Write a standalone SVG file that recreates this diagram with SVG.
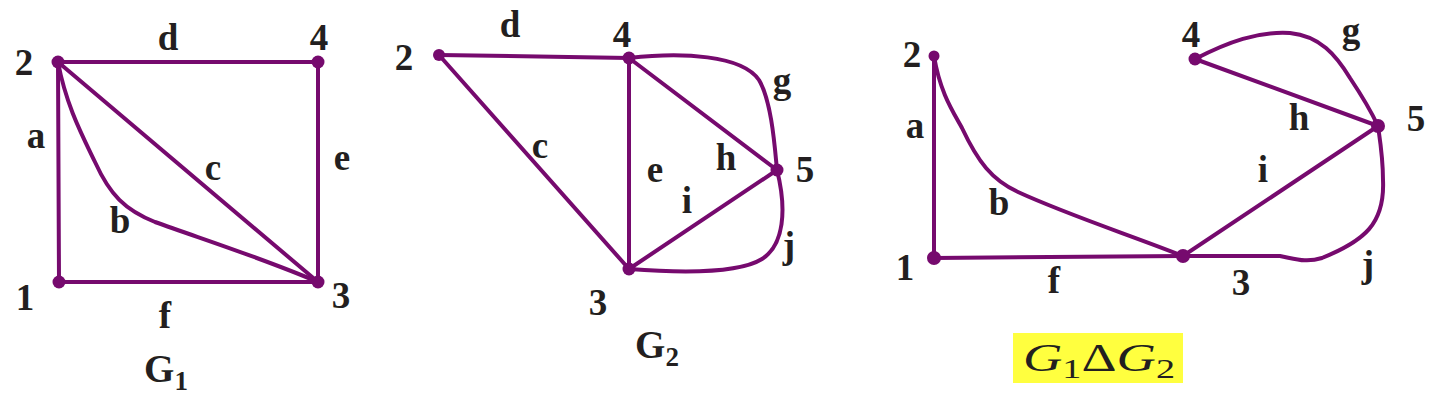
<svg xmlns="http://www.w3.org/2000/svg" width="1444" height="402" viewBox="0 0 1444 402">
<style>
.e{fill:none;stroke:#760a6e;stroke-width:4;stroke-linecap:round;stroke-linejoin:round}
.n{fill:#760a6e}
.t{font-family:"Liberation Serif","Times New Roman",serif;font-weight:bold;font-size:37px;fill:#231f20;text-anchor:middle}
.cap{font-family:"Liberation Serif","Times New Roman",serif;font-weight:bold;font-size:39px;fill:#231f20;text-anchor:middle}
.sym{font-family:"Liberation Serif","Times New Roman",serif;font-size:40px;fill:#231f20}
</style>
<rect width="1444" height="402" fill="#fff"/>
<g id="connectors">
  <!-- G1 -->
  <line class="e" x1="58" y1="62" x2="318" y2="62"/>
  <line class="e" x1="58" y1="62" x2="59" y2="282"/>
  <line class="e" x1="318" y1="62" x2="318" y2="282"/>
  <line class="e" x1="59" y1="282" x2="318" y2="282"/>
  <line class="e" x1="58" y1="62" x2="318" y2="282"/>
  <path class="e" d="M58,62 C66,105 82,135 95,162 C110,195 125,210 155,222 C205,240 262,258 318,282"/>
  <!-- G2 -->
  <line class="e" x1="439" y1="55" x2="629" y2="58"/>
  <line class="e" x1="439" y1="55" x2="629" y2="269"/>
  <line class="e" x1="629" y1="58" x2="629" y2="269"/>
  <line class="e" x1="629" y1="58" x2="777" y2="170"/>
  <line class="e" x1="629" y1="269" x2="777" y2="170"/>
  <path class="e" d="M629,58 C682,52 742,55 759,80 C772,102 775,150 777,170"/>
  <path class="e" d="M777,170 C787,210 784,245 762,259 C738,274 682,273 629,269"/>
  <!-- G1 delta G2 -->
  <line class="e" x1="934" y1="56" x2="934" y2="258"/>
  <line class="e" x1="934" y1="258" x2="1183" y2="256"/>
  <path class="e" d="M934,56 C940,92 952,110 962,128 C978,162 992,180 1018,192 C1068,215 1130,235 1183,256"/>
  <line class="e" x1="1195" y1="59" x2="1378" y2="126"/>
  <line class="e" x1="1183" y1="256" x2="1378" y2="126"/>
  <path class="e" d="M1195,59 C1228,42 1258,31 1290,33 C1320,36 1336,55 1350,78 C1362,96 1371,111 1378,126"/>
  <path class="e" d="M1183,256 L1280,256 C1296,259 1306,263 1322,258 C1364,241 1385,224 1383,180 C1383,158 1380,140 1378,126"/>
  <!-- edge labels -->
  <text class="t" x="168" y="50">d</text>
  <text class="t" x="36" y="148">a</text>
  <text class="t" x="342" y="170">e</text>
  <text class="t" x="213" y="180">c</text>
  <text class="t" x="120" y="233">b</text>
  <text class="t" x="165" y="328">f</text>
  <text class="t" x="510" y="37">d</text>
  <text class="t" x="782" y="93">g</text>
  <text class="t" x="540" y="158">c</text>
  <text class="t" x="655" y="182">e</text>
  <text class="t" x="726" y="170">h</text>
  <text class="t" x="687" y="213">i</text>
  <text class="t" x="789" y="258">j</text>
  <text class="t" x="1351" y="43">g</text>
  <text class="t" x="1299" y="130">h</text>
  <text class="t" x="915" y="138">a</text>
  <text class="t" x="1263" y="182">i</text>
  <text class="t" x="999" y="215">b</text>
  <text class="t" x="1054" y="293">f</text>
  <text class="t" x="1368" y="277">j</text>
</g>
<g id="g1-node2"><circle class="n" cx="58" cy="62" r="6.5"/><text class="t" x="24" y="75">2</text></g>
<g id="g1-node4"><circle class="n" cx="318" cy="62" r="6.5"/><text class="t" x="319" y="50">4</text></g>
<g id="g1-node1"><circle class="n" cx="59" cy="282" r="6.5"/><text class="t" x="25" y="310">1</text></g>
<g id="g1-node3"><circle class="n" cx="318" cy="282" r="6.5"/><text class="t" x="341" y="308">3</text></g>
<g id="g2-node2"><circle class="n" cx="439" cy="55" r="6"/><text class="t" x="404" y="70">2</text></g>
<g id="g2-node4"><circle class="n" cx="629" cy="58" r="6.5"/><text class="t" x="622" y="47">4</text></g>
<g id="g2-node5"><circle class="n" cx="777" cy="170" r="6.5"/><text class="t" x="805" y="182">5</text></g>
<g id="g2-node3"><circle class="n" cx="629" cy="269" r="6.5"/><text class="t" x="598" y="315">3</text></g>
<g id="g3-node2"><circle class="n" cx="934" cy="56" r="5.5"/><text class="t" x="912" y="67">2</text></g>
<g id="g3-node4"><circle class="n" cx="1195" cy="59" r="6.5"/><text class="t" x="1191" y="47">4</text></g>
<g id="g3-node5"><circle class="n" cx="1378" cy="126" r="7"/><text class="t" x="1416" y="131">5</text></g>
<g id="g3-node1"><circle class="n" cx="934" cy="258" r="7"/><text class="t" x="905" y="280">1</text></g>
<g id="g3-node3"><circle class="n" cx="1183" cy="256" r="7"/><text class="t" x="1241" y="295">3</text></g>
<g id="captions">
  <text class="cap" x="166" y="382">G<tspan font-size="27" dy="8">1</tspan></text>
  <text class="cap" x="657" y="358">G<tspan font-size="27" dy="8">2</tspan></text>
  <rect x="1013" y="333" width="170" height="50" fill="#ffff3f"/>
  <text class="sym" x="1023" y="371" textLength="152" lengthAdjust="spacingAndGlyphs"><tspan font-style="italic">G</tspan><tspan font-size="28" dy="7">1</tspan><tspan dy="-7">Δ</tspan><tspan font-style="italic">G</tspan><tspan font-size="28" dy="7">2</tspan></text>
</g>
</svg>
